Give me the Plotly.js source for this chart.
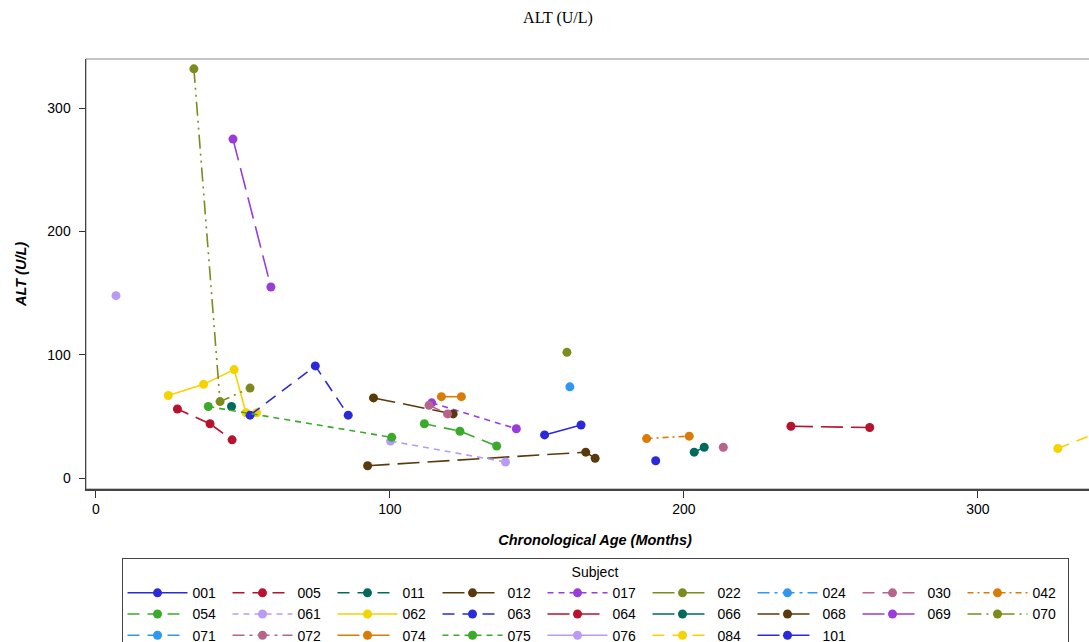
<!DOCTYPE html>
<html>
<head>
<meta charset="utf-8">
<script src="https://cdn.plot.ly/plotly-3.0.1.min.js"></script>
<style>
html,body{margin:0;padding:0;overflow:hidden;background:#fff;}
#chart{width:1116px;height:720px;}
</style>
</head>
<body>
<div id="chart"></div>
<script>
// Subjects in legend order
const subjects = ["001","005","011","012","017","022","024","030","042","054","061","062","063","064","066","068","069","070","071","072","074","075","076","084","101"];

// Chronological age (months) per subject
const age001 = [152.6, 165.0];
const age005 = [27.7, 38.8, 46.3];
const age011 = [46.1];
const age012 = [92.4, 166.6, 169.8];
const age017 = [114.2, 143.0];
const age022 = [160.2];
const age024 = [161.2];
const age030 = [213.4];
const age042 = [187.3, 201.8];
const age054 = [111.7, 123.8, 136.3];
const age061 = [100.2, 139.3];
const age062 = [24.6, 36.6, 47.0, 51.0, 54.6];
const age063 = [52.4, 74.6, 85.8];
const age064 = [236.4, 263.2];
const age066 = [203.5, 206.9];
const age068 = [94.4, 121.5];
const age069 = [46.6, 59.5];
const age070 = [33.3, 42.2, 52.4];
const age071 = [null];
const age072 = [113.3, 119.6];
const age074 = [117.5, 124.3];
const age075 = [38.2, 100.6];
const age076 = [6.8];
const age084 = [327.2, 342.0];
const age101 = [190.4];

// ALT (U/L) per subject
const alt001 = [35, 43];
const alt005 = [56, 44, 31];
const alt011 = [58];
const alt012 = [10, 21, 16];
const alt017 = [61, 40];
const alt022 = [102];
const alt024 = [74];
const alt030 = [25];
const alt042 = [32, 34];
const alt054 = [44, 38, 26];
const alt061 = [30, 13];
const alt062 = [67, 76, 88, 53, 53];
const alt063 = [51, 91, 51];
const alt064 = [42, 41];
const alt066 = [21, 25];
const alt068 = [65, 52];
const alt069 = [275, 155];
const alt070 = [332, 62, 73];
const alt071 = [null];
const alt072 = [59, 52];
const alt074 = [66, 66];
const alt075 = [58, 33];
const alt076 = [148];
const alt084 = [24, 38];
const alt101 = [14];

const ages = [age001,age005,age011,age012,age017,age022,age024,age030,age042,age054,age061,age062,age063,age064,age066,age068,age069,age070,age071,age072,age074,age075,age076,age084,age101];
const alts = [alt001,alt005,alt011,alt012,alt017,alt022,alt024,alt030,alt042,alt054,alt061,alt062,alt063,alt064,alt066,alt068,alt069,alt070,alt071,alt072,alt074,alt075,alt076,alt084,alt101];

// styling (12-colour cycle, line patterns)
const palette = ["#2a2ad8","#b5132e","#006b5a","#5a3a0c","#9a3cdb","#7d8a1e","#2f96f2","#b8638a","#d97b06","#3aaa2a","#b99af7","#f5d300"];
const D = {
  solid: "solid",
  dash: "12px,8px",
  long: "22px,8px",
  short: "6px,5px",
  dashdot: "12px,5px,3px,5px",
  shortdashdot: "6px,4px,2px,4px",
  dashdotdot: "14px,5px,2px,5px,2px,5px"
};
const dashes = [D.solid, D.dash, D.dash, D.long, D.short, D.long, D.dashdot, D.dash, D.shortdashdot,
                D.dash, D.short, D.solid, D.dash, D.long, D.long, D.long, D.long, D.dashdotdot,
                D.dash, D.dashdot, D.long, D.short, D.solid, D.dash, D.long];

const traces = subjects.map((s, i) => ({
  type: "scatter",
  mode: "lines+markers",
  name: s,
  x: ages[i],
  y: alts[i],
  line: {color: palette[i % 12], width: 1.6, dash: dashes[i]},
  marker: {color: palette[i % 12], size: 9},
  showlegend: true
}));

const H = 720;
const layout = {
  width: 1116, height: H,
  paper_bgcolor: "#fff", plot_bgcolor: "#fff",
  margin: {l: 86, r: 12, t: 59, b: H - 489},
  title: {text: "ALT (U/L)", x: 0.5, xref: "container", xanchor: "center",
          y: 1 - 17 / H, yref: "container", yanchor: "middle",
          font: {family: "Liberation Serif, Times New Roman, serif", size: 16, color: "#000"}},
  font: {family: "Liberation Sans, Arial, sans-serif", color: "#000"},
  xaxis: {
    range: [-3.4, 342.9], tickvals: [0, 100, 200, 300], ticks: "outside", ticklen: 7, tickcolor: "#333",
    showgrid: false, zeroline: false, showline: true, linecolor: "#444", linewidth: 1.5,
    tickfont: {size: 14, color: "#000"},
    title: {text: "Chronological Age (Months)", standoff: 18,
            font: {size: 14.5, weight: "bold", style: "italic", color: "#000"}}
  },
  yaxis: {
    range: [-8.9, 340], tickvals: [0, 100, 200, 300], ticks: "outside", ticklen: 6, tickcolor: "#333",
    ticklabelstandoff: 5,
    showgrid: false, zeroline: false, showline: true, linecolor: "#444", linewidth: 1.5,
    tickfont: {size: 14, color: "#000"},
    title: {text: "ALT (U/L)", standoff: 17,
            font: {size: 14.5, weight: "bold", style: "italic", color: "#000"}}
  },
  shapes: [{type: "rect", xref: "paper", yref: "paper", x0: 0, x1: 1, y0: 0, y1: 1,
            line: {color: "#888", width: 1}, layer: "below"}],
  legend: {
    orientation: "h", xref: "paper", yref: "paper", x: 0.5, xanchor: "center", y: -0.1605, yanchor: "top",
    bordercolor: "#444", borderwidth: 1, bgcolor: "#fff",
    itemwidth: 60, tracegroupgap: 0, entrywidth: 30, entrywidthmode: "pixels",
    font: {size: 14, color: "#000"},
    title: {text: "Subject", side: "top center", font: {size: 14, color: "#000"}}
  },
  showlegend: true
};

Plotly.newPlot("chart", traces, layout, {displayModeBar: false, staticPlot: true});
</script>
</body>
</html>
